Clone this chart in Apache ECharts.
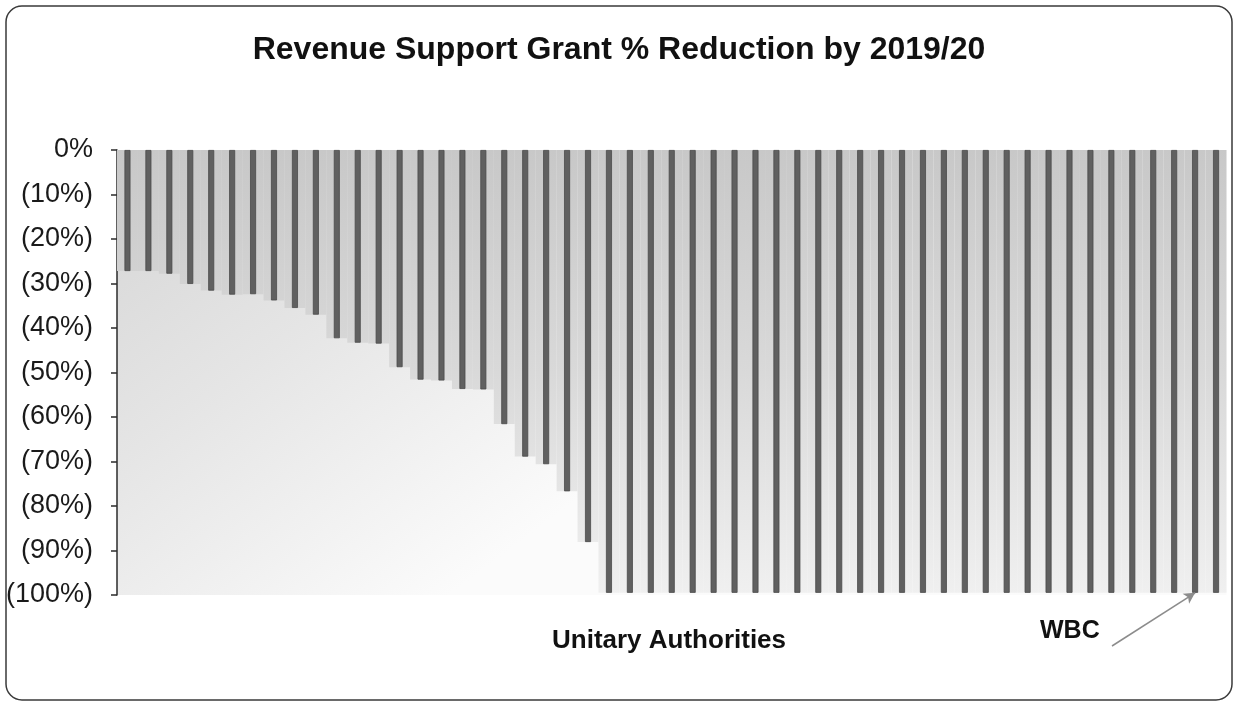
<!DOCTYPE html>
<html>
<head>
<meta charset="utf-8">
<title>Revenue Support Grant % Reduction by 2019/20</title>
<script src="https://cdn.jsdelivr.net/npm/echarts@6/dist/echarts.min.js"></script>
<style>
  html, body { margin: 0; padding: 0; background: #ffffff; }
  #chart { width: 1238px; height: 706px; }
</style>
</head>
<body>
<div id="chart"></div>
<script>
// Councils in order of RSG reduction (unitary authorities); WBC is second from the end
const councils = [
  'UA01', 'UA02', 'UA03', 'UA04', 'UA05', 'UA06', 'UA07', 'UA08', 'UA09', 'UA10',
  'UA11', 'UA12', 'UA13', 'UA14', 'UA15', 'UA16', 'UA17', 'UA18', 'UA19', 'UA20',
  'UA21', 'UA22', 'UA23', 'UA24', 'UA25', 'UA26', 'UA27', 'UA28', 'UA29', 'UA30',
  'UA31', 'UA32', 'UA33', 'UA34', 'UA35', 'UA36', 'UA37', 'UA38', 'UA39', 'UA40',
  'UA41', 'UA42', 'UA43', 'UA44', 'UA45', 'UA46', 'UA47', 'UA48', 'UA49', 'UA50',
  'UA51', 'WBC', 'UA53'
];

// Percentage change in Revenue Support Grant by 2019/20 (negative = reduction)
const reductionPct = [
  -27.2, -27.2, -27.8, -30.1, -31.6, -32.5, -32.4, -33.8, -35.5, -37.0,
  -42.3, -43.3, -43.5, -48.8, -51.6, -51.8, -53.7, -53.8, -61.6, -68.9,
  -70.6, -76.7, -88.1, -99.5, -99.5, -99.5, -99.5, -99.5, -99.5, -99.5,
  -99.5, -99.5, -99.5, -99.5, -99.5, -99.5, -99.5, -99.5, -99.5, -99.5,
  -99.5, -99.5, -99.5, -99.5, -99.5, -99.5, -99.5, -99.5, -99.5, -99.5,
  -99.5, -99.5, -99.5
];

// Value axis ticks
const axisMin = -100;
const axisMax = 0;
const axisStep = 10;

const highlighted = 'WBC';

const FONT = '"Liberation Sans", Arial, sans-serif';

const chart = echarts.init(document.getElementById('chart'), null, { renderer: 'canvas' });

const gridBox = { left: 117, right: 11.5, top: 150, bottom: 111 };

const hiddenCategoryAxis = (extra) => Object.assign({
  type: 'category',
  data: councils,
  position: 'top',
  axisLine: { show: false },
  axisTick: { show: false },
  axisLabel: { show: false },
  splitLine: { show: false }
}, extra || {});

chart.setOption({
  backgroundColor: '#ffffff',
  animation: false,
  title: {
    text: 'Revenue Support Grant % Reduction by 2019/20',
    left: 'center',
    top: 29,
    textStyle: {
      fontFamily: FONT,
      fontWeight: 'bold',
      fontSize: 32,
      color: '#111111'
    }
  },
  graphic: [
    {
      type: 'rect',
      shape: { x: 6, y: 6, width: 1226, height: 694, r: 16 },
      style: { fill: 'none', stroke: '#3a3a3a', lineWidth: 1.5 },
      silent: true,
      z: 0
    },
    {
      type: 'text',
      left: 552,
      top: 628,
      style: {
        text: 'Unitary Authorities',
        font: 'bold 26px ' + FONT,
        fill: '#111111'
      },
      silent: true
    },
    {
      type: 'text',
      left: 1040,
      top: 619,
      style: {
        text: highlighted,
        font: 'bold 25px ' + FONT,
        fill: '#111111'
      },
      silent: true
    }
  ],
  grid: {
    left: gridBox.left,
    right: gridBox.right,
    top: gridBox.top,
    bottom: gridBox.bottom,
    containLabel: false,
    show: true,
    borderWidth: 0,
    backgroundColor: {
      type: 'linear', x: 0, y: 0, x2: 0.3, y2: 1,
      colorStops: [
        { offset: 0, color: '#d5d5d5' },
        { offset: 0.45, color: '#e5e5e5' },
        { offset: 1, color: '#fbfbfb' }
      ]
    }
  },
  xAxis: [
    hiddenCategoryAxis(),
    hiddenCategoryAxis({ show: false })
  ],
  yAxis: {
    type: 'value',
    min: axisMin,
    max: axisMax,
    interval: axisStep,
    axisLine: { show: true, lineStyle: { color: '#2b2b2b', width: 1.5 } },
    axisTick: { show: true, inside: false, length: 6, lineStyle: { color: '#2b2b2b', width: 1.5 } },
    splitLine: { show: false },
    axisLabel: {
      margin: 24,
      fontFamily: FONT,
      fontSize: 27,
      color: '#1a1a1a',
      formatter: (v) => (v === 0 ? '0%' : '(' + Math.abs(v) + '%)')
    }
  },
  series: [
    {
      // wide shaded band behind each council's bar
      name: 'band',
      type: 'bar',
      xAxisIndex: 1,
      data: reductionPct,
      barWidth: '100%',
      silent: true,
      itemStyle: {
        color: {
          type: 'linear', global: true,
          x: 0, y: gridBox.top, x2: 0, y2: 706 - gridBox.bottom,
          colorStops: [
            { offset: 0, color: '#c8c8c8' },
            { offset: 0.5, color: '#d9d9d9' },
            { offset: 1, color: '#f0f0f0' }
          ]
        }
      },
      z: 1
    },
    {
      name: 'RSG change',
      type: 'bar',
      xAxisIndex: 0,
      data: reductionPct,
      barWidth: 6,
      itemStyle: {
        color: '#606060',
        borderColor: '#4a4a4a',
        borderWidth: 0.8
      },
      markLine: {
        silent: true,
        symbol: ['none', 'arrow'],
        symbolSize: [9, 11],
        label: { show: false },
        lineStyle: { color: '#8c8c8c', width: 1.5, type: 'solid' },
        data: [
          [
            { x: 1112, y: 646 },
            { coord: [highlighted, reductionPct[councils.indexOf(highlighted)]] }
          ]
        ]
      },
      z: 2
    }
  ]
});
</script>
</body>
</html>
